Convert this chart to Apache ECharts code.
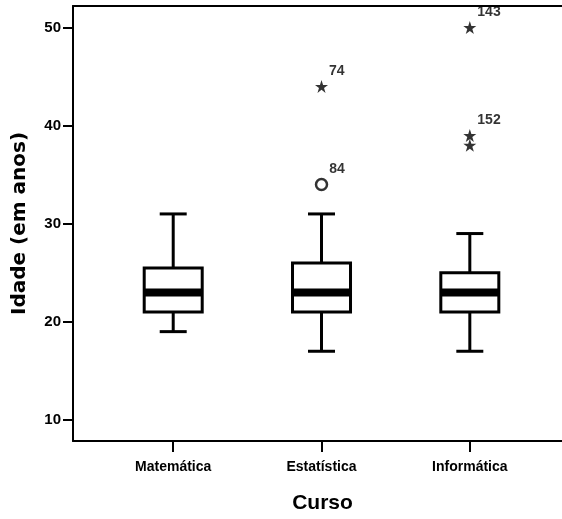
<!DOCTYPE html>
<html>
<head>
<meta charset="utf-8">
<script src="https://cdn.jsdelivr.net/npm/echarts@6/dist/echarts.min.js"></script>
<style>html,body{margin:0;padding:0;background:#fff;overflow:hidden;}#c{width:562px;height:519px;}</style>
</head>
<body>
<div id="c"></div>
<script>
const categories = ['Matemática', 'Estatística', 'Informática'];
const whiskerLow = [19, 17, 17];
const q1 = [21, 21, 21];
const median = [23, 23, 23];
const q3 = [25.5, 26, 25];
const whiskerHigh = [31, 31, 29];
const yTicks = [10, 20, 30, 40, 50];
// [category position, value, case label]
const outliers = [[2, 34, '84']];
const extremes = [[2, 44, '74'], [3, 50, '143'], [3, 39, '152'], [3, 38, '']];

const catPos = categories.map((c, i) => i + 1);
const boxData = categories.map((c, i) => [i + 1, whiskerLow[i], q1[i], median[i], q3[i], whiskerHigh[i]]);

const FONT = 'Liberation Sans, Arial, sans-serif';
const STAR = 'path://M50,0 L61.8,35.5 L99,35.5 L69,57.5 L80.5,93 L50,71 L19.5,93 L31,57.5 L1,35.5 L38.2,35.5 Z';
const X_MIN = 0.3243, X_MAX = 3.6216;

function renderBox(params, api) {
  const x = api.value(0);
  const pLow = api.coord([x, api.value(1)]);
  const pQ1 = api.coord([x, api.value(2)]);
  const pMed = api.coord([x, api.value(3)]);
  const pQ3 = api.coord([x, api.value(4)]);
  const pHigh = api.coord([x, api.value(5)]);
  const cx = pLow[0];
  const boxW = 58, capW = 27, medH = 8;
  const ls = { stroke: '#000', lineWidth: 3, fill: null };
  return {
    type: 'group',
    children: [
      { type: 'line', shape: { x1: cx, y1: pLow[1], x2: cx, y2: pQ1[1] }, style: ls },
      { type: 'line', shape: { x1: cx, y1: pQ3[1], x2: cx, y2: pHigh[1] }, style: ls },
      { type: 'line', shape: { x1: cx - capW / 2, y1: pLow[1], x2: cx + capW / 2, y2: pLow[1] }, style: ls },
      { type: 'line', shape: { x1: cx - capW / 2, y1: pHigh[1], x2: cx + capW / 2, y2: pHigh[1] }, style: ls },
      { type: 'rect', shape: { x: cx - boxW / 2, y: pQ3[1], width: boxW, height: pQ1[1] - pQ3[1] }, style: { stroke: '#000', lineWidth: 3, fill: '#fff' } },
      { type: 'rect', shape: { x: cx - boxW / 2, y: pMed[1] - medH / 2, width: boxW, height: medH }, style: { fill: '#000' } }
    ]
  };
}

const labelStyle = {
  show: true,
  position: 'right',
  distance: 1,
  offset: [0, -15],
  formatter: p => p.value[2],
  color: '#000',
  fontFamily: FONT,
  fontWeight: 'bold',
  fontSize: 14
};

const chart = echarts.init(document.getElementById('c'), null, { renderer: 'canvas' });
chart.setOption({
  animation: false,
  backgroundColor: '#fff',
  grid: { left: 73, top: 6, height: 438, right: 0, show: false },
  xAxis: [{
    type: 'value',
    position: 'bottom',
    min: X_MIN,
    max: X_MAX,
    splitLine: { show: false },
    axisLine: { show: true, onZero: false, lineStyle: { color: '#000', width: 2 } },
    axisTick: { show: true, customValues: catPos, length: 11, lineStyle: { color: '#000', width: 2 } },
    axisLabel: { show: true, customValues: catPos, formatter: v => categories[Math.round(v) - 1] || '', margin: 19, color: '#000', fontFamily: FONT, fontWeight: 'bold', fontSize: 14 },
    name: 'Curso',
    nameLocation: 'middle',
    nameGap: 52,
    nameTextStyle: { color: '#000', fontFamily: FONT, fontWeight: 'bold', fontSize: 21, padding: [0, 0, 0, 10] }
  }, {
    type: 'value',
    position: 'top',
    min: X_MIN,
    max: X_MAX,
    splitLine: { show: false },
    axisLine: { show: true, onZero: false, lineStyle: { color: '#000', width: 2 } },
    axisTick: { show: false },
    axisLabel: { show: false }
  }],
  yAxis: {
    type: 'value',
    min: 7.85,
    max: 52.2,
    splitLine: { show: false },
    axisLine: { show: true, onZero: false, lineStyle: { color: '#000', width: 2 } },
    axisTick: { show: true, customValues: yTicks, length: 10, lineStyle: { color: '#000', width: 2 } },
    axisLabel: { show: true, customValues: yTicks, margin: 12, color: '#000', fontFamily: FONT, fontWeight: 'bold', fontSize: 15 },
    name: 'Idade (em anos)',
    nameLocation: 'middle',
    nameGap: 43,
    nameTextStyle: { color: '#000', fontFamily: 'DejaVu Sans, sans-serif', fontWeight: 'bold', fontSize: 20 }
  },
  series: [
    {
      type: 'custom',
      renderItem: renderBox,
      data: boxData,
      encode: { x: 0, y: [1, 2, 3, 4, 5] },
      z: 2
    },
    {
      type: 'scatter',
      data: outliers,
      symbol: 'circle',
      symbolSize: 11,
      itemStyle: { color: '#fff', borderColor: '#000', borderWidth: 2.5 },
      label: labelStyle,
      z: 3
    },
    {
      type: 'scatter',
      data: extremes,
      symbol: STAR,
      symbolSize: 13,
      itemStyle: { color: '#000' },
      label: labelStyle,
      z: 3
    }
  ]
});
</script>
</body>
</html>
